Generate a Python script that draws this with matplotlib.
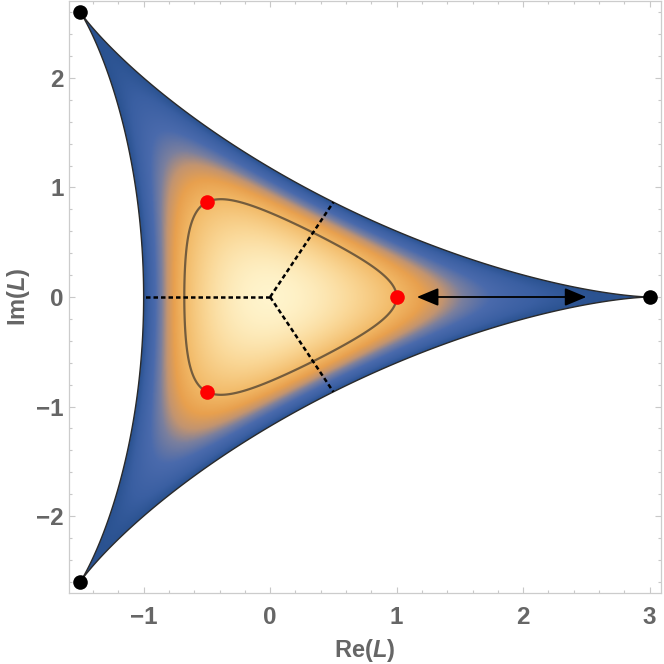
import numpy as np
import matplotlib
matplotlib.use('Agg')
import matplotlib.pyplot as plt
from matplotlib.colors import LinearSegmentedColormap
from matplotlib.path import Path
from matplotlib.patches import PathPatch, FancyArrowPatch

# ---- data ----
cusp_re = [3.0, -1.5, -1.5]
cusp_im = [0.0, 2.598, -2.598]
red_re = [1.0, -0.5, -0.5]
red_im = [0.0, 0.866, -0.866]
dash_end_re = [-1.0, 0.5, 0.5]
dash_end_im = [0.0, 0.866, -0.866]
arrow_from = (1.16, 0.0)
arrow_to = (2.50, 0.0)
contour_level = 16.0
h_max = 27.0
x_ticks = [-1, 0, 1, 2, 3]
y_ticks = [-2, -1, 0, 1, 2]
x_lim = (-1.59, 3.09)
y_lim = (-2.702, 2.702)

cmap_stops = [(0.00, '#2a5290'), (0.08, '#3a5fa2'), (0.20, '#4a6aac'),
              (0.30, '#7a7f9e'), (0.38, '#c29470'), (0.47, '#e8a04e'),
              (0.60, '#f2ba68'), (0.80, '#fad898'), (1.00, '#fff4cc')]

plt.rcParams['font.family'] = ['Liberation Sans', 'DejaVu Sans']
plt.rcParams['mathtext.fontset'] = 'custom'
plt.rcParams['mathtext.it'] = 'Liberation Sans:italic:bold'
plt.rcParams['mathtext.rm'] = 'Liberation Sans:bold'

fig = plt.figure(figsize=(6.64, 6.64), dpi=100)
ax = fig.add_axes([69/664, 1 - 593/664, 592/664, 592/664])

cmap = LinearSegmentedColormap.from_list('haar', cmap_stops)

# deltoid boundary
t = np.linspace(0, 2*np.pi, 2000)
bz = 2*np.exp(1j*t) + np.exp(-2j*t)
verts = np.column_stack([bz.real, bz.imag])
path = Path(verts, closed=True)
patch = PathPatch(path, facecolor='none', edgecolor='#2a2a2a', lw=1.0, zorder=3)

# density
xs = np.linspace(x_lim[0], x_lim[1], 900)
ys = np.linspace(y_lim[0], y_lim[1], 900)
X, Y = np.meshgrid(xs, ys)
R2 = X**2 + Y**2
H = 27 - 18*R2 + 8*(X**3 - 3*X*Y**2) - R2**2
V = np.clip(H, 0, None) / h_max
im = ax.imshow(V, extent=[x_lim[0], x_lim[1], y_lim[0], y_lim[1]], origin='lower',
               cmap=cmap, vmin=0, vmax=1, interpolation='bilinear', aspect='auto', zorder=1)
ax.add_patch(patch)
im.set_clip_path(patch)

# contour
ax.contour(X, Y, H, levels=[contour_level], colors=['#4a3e30'], linewidths=1.6,
           alpha=0.75, zorder=4)

# dashed lines
for xe, ye in zip(dash_end_re, dash_end_im):
    ax.plot([0, xe], [0, ye], color='black', lw=1.8, dashes=(1.8, 1.2), zorder=5)

# arrow
arr = FancyArrowPatch(arrow_from, arrow_to, arrowstyle='<|-|>,head_length=0.6,head_width=0.25',
                      mutation_scale=22, color='black', lw=1.3, zorder=6,
                      shrinkA=0, shrinkB=0)
ax.add_patch(arr)

# points
ax.plot(red_re, red_im, 'o', color='#ff0000', ms=10.5, mec='none', zorder=7)
ax.plot(cusp_re, cusp_im, 'o', color='black', ms=10.5, mec='none', zorder=7, clip_on=False)

ax.set_xlim(*x_lim)
ax.set_ylim(*y_lim)
ax.set_xticks(x_ticks)
ax.set_yticks(y_ticks)
ax.set_xticks(np.arange(-1.4, 3.01, 0.2), minor=True)
ax.set_yticks(np.arange(-2.6, 2.61, 0.2), minor=True)
ax.tick_params(which='both', direction='in', top=True, right=True, color='#c8c8c8', width=0.8)
ax.tick_params(which='major', length=4.5)
ax.tick_params(which='minor', length=2.5)
ax.tick_params(axis='x', which='major', pad=9, labelsize=17.5, labelcolor='#666666')
ax.tick_params(axis='y', which='major', pad=4, labelsize=17.5, labelcolor='#666666')
for lab in ax.get_xticklabels() + ax.get_yticklabels():
    lab.set_fontweight('bold')
for s in ax.spines.values():
    s.set_color('#cccccc')
    s.set_linewidth(0.9)

ax.set_xlabel(r'Re($\mathit{L}$)', fontsize=17, fontweight='bold', color='#666666', labelpad=6)
ax.set_ylabel(r'Im($\mathit{L}$)', fontsize=17, fontweight='bold', color='#666666', labelpad=3)

fig.savefig('out.png', dpi=100)
